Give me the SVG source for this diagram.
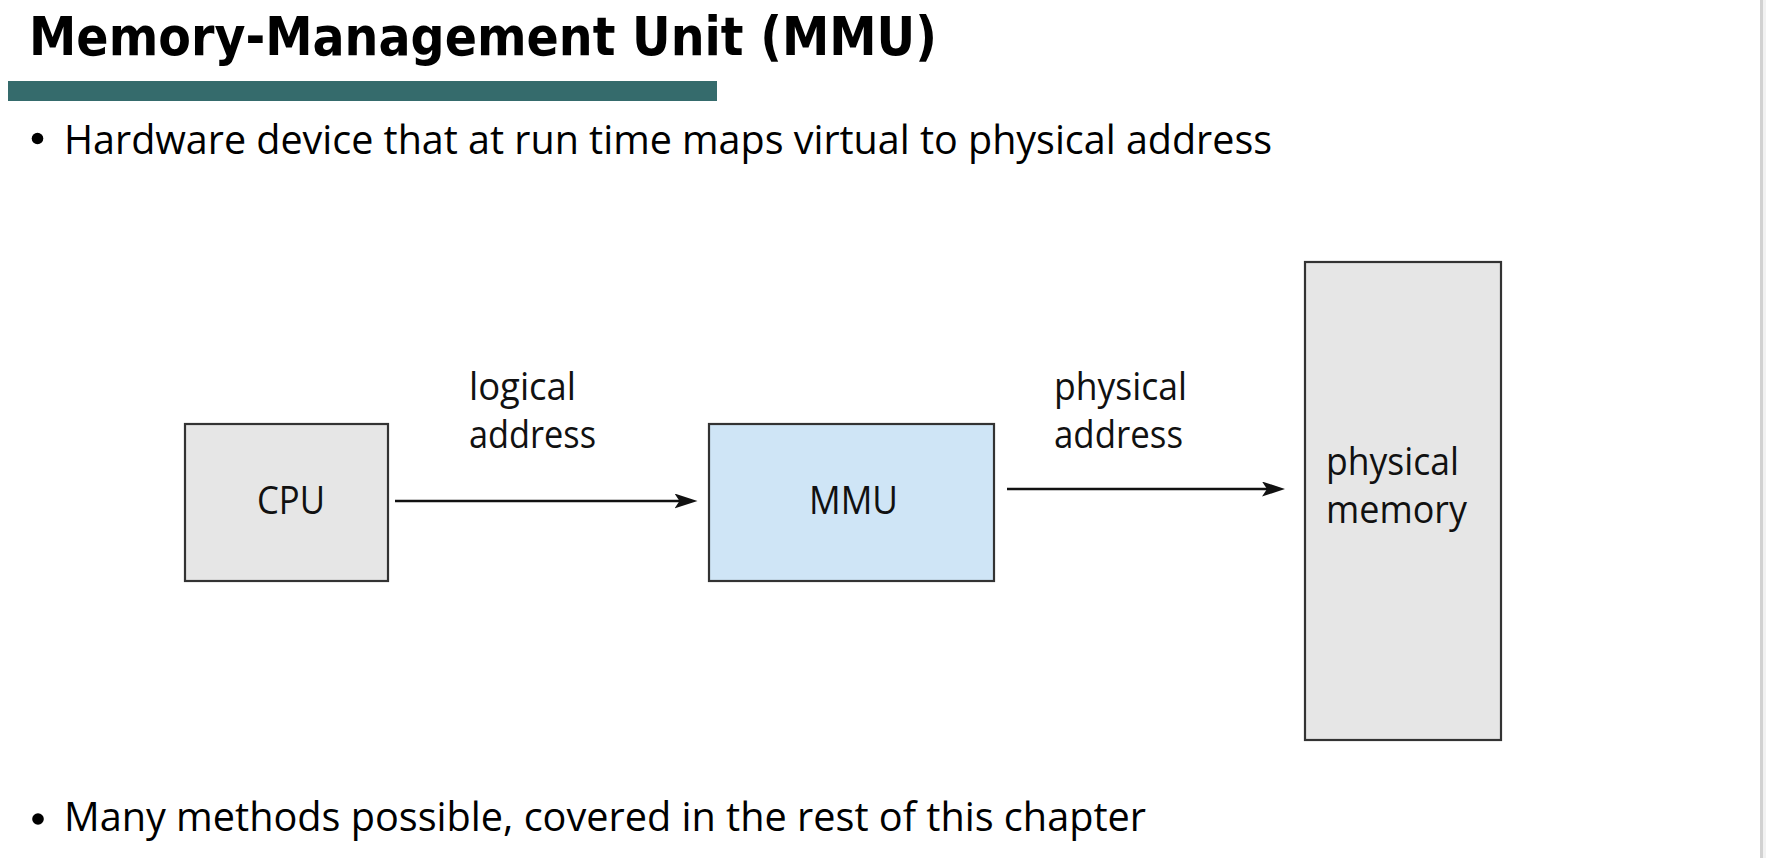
<svg xmlns="http://www.w3.org/2000/svg" width="1766" height="858" viewBox="0 0 1766 858">
  <style>
    .title { font-family: "DejaVu Sans", Verdana, sans-serif; font-weight: bold; font-size: 54px; fill: #000; }
    .bullet { font-family: "Open Sans", "Noto Sans", sans-serif; font-size: 41px; fill: #000; }
    .lbl { font-family: "Open Sans", "Noto Sans", sans-serif; font-size: 39px; fill: #111; }
    .box { stroke: #333; stroke-width: 2.2; }
    .gray { fill: #e6e6e6; }
    .blue { fill: #cfe5f6; }
    .conn { stroke: #111; stroke-width: 2.4; fill: none; }
  </style>
  <defs>
    <marker id="ah" markerWidth="23" markerHeight="15" refX="8" refY="7.5" orient="auto" markerUnits="userSpaceOnUse">
      <path d="M0,0 L23,7.5 L0,15 L5,7.5 z" fill="#111"/>
    </marker>
  </defs>
  <rect x="0" y="0" width="1766" height="858" fill="#ffffff"/>
  <rect x="1763" y="0" width="3" height="858" fill="#f2f2f2"/>
  <line x1="1761.5" y1="0" x2="1761.5" y2="858" stroke="#d2d2d2" stroke-width="3"/>

  <g id="header">
    <text class="title" x="29" y="54.5" textLength="908" lengthAdjust="spacingAndGlyphs">Memory-Management Unit (MMU)</text>
    <rect x="8" y="81" width="709" height="20" fill="#356b6c"/>
  </g>

  <g id="bullet1">
    <circle cx="37.5" cy="138.5" r="5.8" fill="#000"/>
    <text class="bullet" x="64" y="154" textLength="1208" lengthAdjust="spacingAndGlyphs">Hardware device that at run time maps virtual to physical address</text>
  </g>

  <g id="connectors">
    <line class="conn" x1="395" y1="501" x2="682.5" y2="501" marker-end="url(#ah)"/>
    <line class="conn" x1="1007" y1="489" x2="1270" y2="489" marker-end="url(#ah)"/>
    <text class="lbl" x="469" y="400" textLength="107" lengthAdjust="spacingAndGlyphs">logical</text>
    <text class="lbl" x="469" y="448" textLength="127" lengthAdjust="spacingAndGlyphs">address</text>
    <text class="lbl" x="1054" y="400" textLength="133" lengthAdjust="spacingAndGlyphs">physical</text>
    <text class="lbl" x="1054" y="448" textLength="129" lengthAdjust="spacingAndGlyphs">address</text>
  </g>

  <g id="cpu">
    <rect class="box gray" x="185" y="424" width="203" height="157"/>
    <text class="lbl" x="291" y="514" text-anchor="middle" textLength="68" lengthAdjust="spacingAndGlyphs">CPU</text>
  </g>

  <g id="mmu">
    <rect class="box blue" x="709" y="424" width="285" height="157"/>
    <text class="lbl" x="853.5" y="514" text-anchor="middle" textLength="89" lengthAdjust="spacingAndGlyphs">MMU</text>
  </g>

  <g id="physical-memory">
    <rect class="box gray" x="1305" y="262" width="196" height="478"/>
    <text class="lbl" x="1326" y="474.5" textLength="133" lengthAdjust="spacingAndGlyphs">physical</text>
    <text class="lbl" x="1326" y="522.5" textLength="141" lengthAdjust="spacingAndGlyphs">memory</text>
  </g>

  <g id="bullet2">
    <circle cx="38" cy="819" r="5.8" fill="#000"/>
    <text class="bullet" x="64" y="831" textLength="1082" lengthAdjust="spacingAndGlyphs">Many methods possible, covered in the rest of this chapter</text>
  </g>
</svg>
